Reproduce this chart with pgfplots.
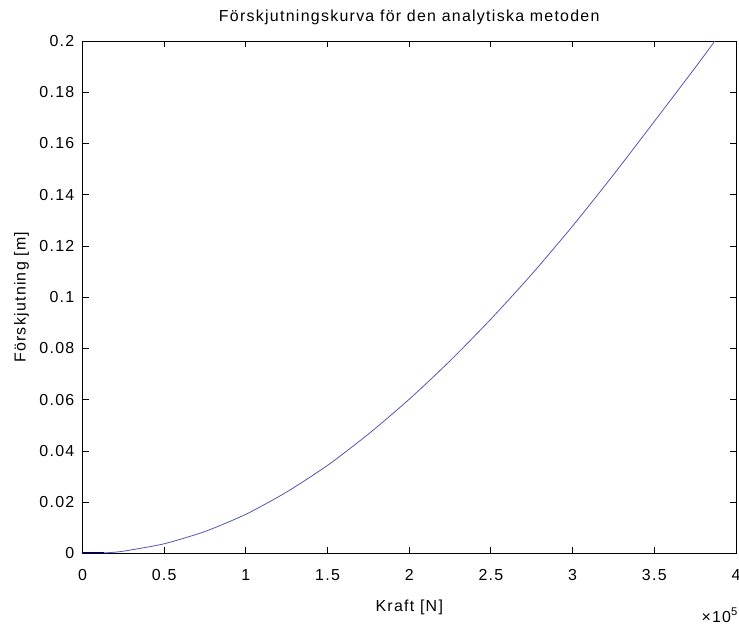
\documentclass[border=0pt]{standalone}
\usepackage{fontspec}
\setmainfont[LetterSpace=8]{Liberation Sans}
\usepackage{pgfplots}
\pgfplotsset{compat=1.18}
\definecolor{mline}{RGB}{85,85,185}

\begin{document}
\fontsize{16}{19}\selectfont
\begin{tikzpicture}
\begin{axis}[
    scale only axis,
    width=653.5bp, height=512.5bp,
    xmin=0, xmax=4, ymin=0, ymax=0.2,
    xtick={0,0.5,...,4},
    ytick={0,0.02,...,0.2},
    yticklabel style={/pgf/number format/fixed, /pgf/number format/precision=2},
    scaled y ticks=false,
    /pgf/number format/assume math mode=true,
    tick align=inside,
    major tick length=6bp,
    axis line style={line width=0.9bp},
    every tick/.style={black, line width=0.9bp},
    xticklabel style={anchor=base, inner sep=0pt, yshift=-27bp},
    yticklabel style={anchor=east, inner sep=0pt, xshift=-8bp},
    title={Förskjutningskurva för den analytiska metoden},
    xlabel={Kraft [N]},
    ylabel={Förskjutning [m]},
    every axis title/.style={at={(axis description cs:0.5,1.0377)}, anchor=base, inner sep=0pt},
    every axis x label/.style={at={(axis description cs:0.5,-0.1141)}, anchor=base, inner sep=0pt},
    every axis y label/.style={at={(axis description cs:-0.0872,0.5)}, rotate=90, anchor=base, inner sep=0pt},
]
    % displacement vs force (force in units of 1e5 N)
    \addplot[mline, line width=0.8bp, smooth, tension=0.4] coordinates {
        (0,0) (0.15,0.0003) (0.25,0.0009) (0.5,0.0038) (0.75,0.0086)
        (1.0,0.0153) (1.25,0.0240) (1.5,0.0344) (1.75,0.0466)
        (2.0,0.0602) (2.25,0.0752) (2.5,0.0915) (2.75,0.1090)
        (3.0,0.1278) (3.25,0.1478) (3.5,0.1686) (3.75,0.1896) (3.871,0.2)
    };
    \addplot[black!70!blue, line width=1.6bp] coordinates {(0,0.0002) (0.13,0.0002)};
\end{axis}
\node[anchor=base east, inner sep=0pt] at ([shift={(2bp,-68.5bp)}]current axis.south east) {×10\textsuperscript{5}};
\pgfresetboundingbox
\path (-82.5bp,-76.5bp) rectangle (656.5bp,553.5bp);
\end{tikzpicture}
\end{document}
